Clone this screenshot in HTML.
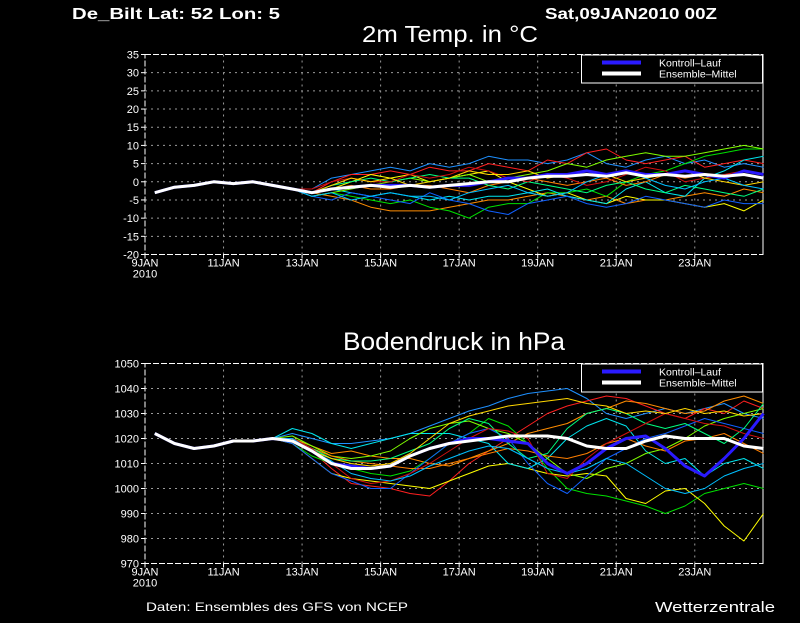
<!DOCTYPE html>
<html><head><meta charset="utf-8">
<style>
html,body{margin:0;padding:0;background:#000;}
body{width:800px;height:618px;overflow:hidden;position:relative;font-family:"Liberation Sans",sans-serif;}
svg text{font-family:"Liberation Sans",sans-serif;fill:#fff;}
</style></head>
<body>
<svg id="chart" width="800" height="618" viewBox="0 0 800 618" xmlns="http://www.w3.org/2000/svg">
<rect x="0" y="0" width="800" height="618" fill="#000"/>
<text x="72" y="19" font-size="16" font-weight="bold" textLength="208" lengthAdjust="spacingAndGlyphs">De_Bilt   Lat: 52  Lon: 5</text>
<text x="545" y="19" font-size="16" font-weight="bold" textLength="172" lengthAdjust="spacingAndGlyphs">Sat,09JAN2010  00Z</text>
<text x="362" y="42" font-size="23" textLength="176" lengthAdjust="spacingAndGlyphs">2m Temp. in °C</text>
<text x="343" y="350" font-size="25" textLength="222" lengthAdjust="spacingAndGlyphs">Bodendruck in hPa</text>
<text x="146" y="611" font-size="12" textLength="262" lengthAdjust="spacingAndGlyphs">Daten: Ensembles des GFS von NCEP</text>
<text x="655" y="612" font-size="15" textLength="120" lengthAdjust="spacingAndGlyphs">Wetterzentrale</text>
<g id="top"></g>
<g id="bot"></g>
</svg>
<script>
// ---- data ----
const dayLabels = ["9JAN","11JAN","13JAN","15JAN","17JAN","19JAN","21JAN","23JAN"];
const tempTicks = [35,30,25,20,15,10,5,0,-5,-10,-15,-20];
const presTicks = [1050,1040,1030,1020,1010,1000,990,980,970];
const memberColors = ["#1e90ff","#ff2020","#ff8c00","#00e000","#ffff00","#00e5ee","#80ff00","#ff7f00","#1060ff","#00ff80","#d01010","#ffd700","#00bfff"];
const tempPrefix = [-3,-1.5,-1,0,-0.5,0,-1,-2];
const tempMean = [-3,-1.5,-1,0,-0.5,0,-1,-2,-3,-2,-1.5,-1,-1.5,-1,-1.5,-1,-0.5,0,0,1,1.5,1.5,2,1.5,2.5,1.5,2,1.5,2,1.5,2,1];
const tempControl = [-3,-2,-1.5,-1,-1,-1,-1.5,-1,-1,0,1,1,2,2,3,2,3,2,2,3,2,1,3,2];
const tempM1 = [-2,1,2,3,4,3,5,4,5,7,6,6,5,6,8,5,4,6,7,5,6,4,5,4];
const tempM2 = [-3,0,2,2,3,2,4,3,3,5,4,3,6,5,8,9,6,5,6,7,4,5,6,5];
const tempM3 = [-3,-4,-5,-7,-8,-8,-8,-7,-6,-5,-5,-4,-3,-4,-5,-4,-6,-5,-5,-4,-3,-4,-2,-3];
const tempM4 = [-4,-3,-4,-5,-6,-5,-7,-8,-10,-7,-6,-6,-3,-3,-2,-4,0,2,3,5,7,8,9,9];
const tempM5 = [-3,-2,0,2,1,2,0,1,2,3,0,-2,-4,-3,-5,-6,-4,-5,-5,-6,-7,-6,-8,-5];
const tempM6 = [-3,-2,-3,-4,-3,-4,-5,-4,-5,-4,-4,-3,-2,-4,-5,-6,-2,0,-3,-4,1,3,6,7];
const tempM7 = [-4,-3,-2,-1,0,1,0,1,2,0,1,2,3,5,4,6,7,8,7,7,8,9,10,9];
const tempM8 = [-3,-2,-1,-2,-2,-1,-1,-2,-3,-1,0,1,0,-1,0,1,-1,0,2,1,2,1,3,2];
const tempM9 = [-4,-5,-3,-4,-5,-6,-3,-5,-6,-8,-9,-6,-5,-4,-6,-7,-6,-4,-5,-6,-7,-5,-6,-6];
const tempM10 = [-3,-1,0,1,0,1,2,1,1,-1,-2,0,-1,-2,-3,-1,0,-2,-3,-1,-2,-3,-4,-2];
const tempM11 = [-2,0,1,0,0,2,1,2,4,3,1,0,2,1,-1,0,2,4,3,0,1,2,3,2];
const tempM12 = [-3,-1,1,0,1,-1,0,1,3,2,2,3,1,2,3,2,0,1,2,3,1,0,-1,0];
const tempM13 = [-4,-3,-5,-4,-3,-4,-4,-5,-3,-2,-1,-3,-4,-3,0,2,3,1,-1,-2,0,1,-1,-2];
const presPrefix = [1022,1018,1016,1017,1019,1019,1020];
const presMean = [1022,1018,1016,1017,1019,1019,1020,1019,1015,1010,1008,1008,1009,1013,1016,1018,1019,1020,1021,1021,1021,1020,1017,1016,1016,1019,1021,1020,1020,1020,1017,1016];
const presControl = [1019,1015,1010,1009,1008,1009,1013,1016,1018,1020,1020,1019,1018,1010,1006,1010,1016,1020,1021,1016,1009,1005,1012,1020,1030];
const presM1 = [1022,1020,1018,1018,1019,1020,1022,1025,1028,1031,1033,1036,1038,1039,1040,1036,1030,1028,1030,1032,1030,1032,1034,1030,1028];
const presM2 = [1020,1015,1008,1002,1001,1000,998,997,1003,1010,1015,1020,1025,1030,1033,1035,1037,1036,1033,1030,1028,1032,1030,1035,1032];
const presM3 = [1020,1017,1014,1015,1013,1012,1012,1010,1009,1012,1015,1018,1022,1024,1026,1030,1032,1035,1034,1032,1030,1031,1035,1037,1034];
const presM4 = [1018,1013,1010,1008,1006,1005,1007,1012,1018,1022,1028,1025,1018,1008,1000,998,997,995,993,990,993,998,1000,1002,1000];
const presM5 = [1018,1012,1006,1004,1003,1002,1001,1000,1003,1006,1009,1010,1008,1006,1005,1006,1005,996,994,999,1000,994,985,979,990];
const presM6 = [1024,1022,1018,1016,1018,1020,1022,1022,1022,1020,1018,1010,1008,1012,1020,1025,1028,1025,1015,1010,1012,1005,1010,1012,1008];
const presM7 = [1021,1017,1013,1012,1013,1015,1020,1024,1026,1027,1024,1022,1018,1012,1006,1004,1008,1010,1014,1016,1020,1025,1028,1030,1032];
const presM8 = [1019,1016,1013,1011,1010,1009,1008,1008,1010,1012,1014,1016,1015,1013,1012,1014,1018,1020,1017,1015,1019,1020,1022,1018,1014];
const presM9 = [1018,1012,1006,1003,1000,1000,1006,1012,1018,1022,1024,1020,1010,1002,998,1005,1012,1016,1020,1022,1025,1028,1026,1024,1022];
const presM10 = [1020,1016,1012,1011,1011,1012,1015,1018,1024,1028,1026,1018,1012,1014,1024,1030,1032,1030,1026,1024,1026,1022,1018,1024,1034];
const presM11 = [1020,1016,1010,1004,1002,1003,1006,1010,1015,1020,1024,1023,1020,1006,1004,1012,1018,1022,1026,1030,1028,1026,1025,1022,1020];
const presM12 = [1019,1015,1012,1010,1009,1010,1014,1020,1026,1029,1031,1033,1034,1035,1036,1034,1033,1030,1031,1030,1032,1030,1031,1029,1030];
const presM13 = [1020,1015,1011,1006,1004,1003,1005,1009,1012,1015,1017,1016,1012,1008,1006,1008,1012,1010,1005,1000,998,1000,1005,1008,1010];

// ---- drawing ----
const NS="http://www.w3.org/2000/svg";
const X0=145, X1=763, DAY=39.27;
function xs(day){return X0+day*DAY;}
function tOf(i){return 0.25+0.5*i;}
function mk(tag,attrs,parent){const e=document.createElementNS(NS,tag);for(const k in attrs)e.setAttribute(k,attrs[k]);parent.appendChild(e);return e;}

function panel(g,name,top,bottom,vmax,vmin,ticks,prefix,members,control,mean){
  const ys=v=>top+(vmax-v)/(vmax-vmin)*(bottom-top);
  ticks.forEach(t=>{
    const y=ys(t);
    if(t!==vmin&&t!==vmax){const l=mk('line',{x1:X0,x2:X1,y1:y,y2:y,stroke:'#9a9a9a','stroke-dasharray':'2,4','stroke-width':1},g);
      
      }
    const tk=mk('line',{x1:X0-4,x2:X0,y1:y,y2:y,stroke:'#fff'},g);
    
    
    const tx=mk('text',{x:X0-6,y:y+4,'font-size':11,'text-anchor':'end'},g);
    tx.textContent=t;
    
    
  });
  dayLabels.forEach((d,i)=>{
    const x=xs(i*2);
    if(i>0){const l=mk('line',{x1:x,x2:x,y1:top,y2:bottom,stroke:'#9a9a9a','stroke-dasharray':'2,4'},g);
      
      }
    const tk=mk('line',{x1:x,x2:x,y1:bottom,y2:bottom+4,stroke:'#fff'},g);
    
    
    const tx=mk('text',{x:x,y:bottom+12,'font-size':11,'text-anchor':'middle'},g);
    tx.textContent=d;
    
    
  });
  const yr=mk('text',{x:X0,y:bottom+23,'font-size':11,'text-anchor':'middle'},g);
  yr.textContent='2010';
  
  
  const ax=mk('path',{d:`M${X0},${top}H${X1}V${bottom}H${X0}Z`,fill:'none',stroke:'#fff','stroke-dasharray':'6,2'},g);
  
  
  mk('line',{x1:X1,x2:X1,y1:top,y2:bottom,stroke:'#fff'},g);
  const line=(vals,color,w,nm)=>{
    const pts=vals.map((v,i)=>xs(tOf(i)).toFixed(1)+','+ys(v).toFixed(1)).join(' ');
    const p=mk('polyline',{points:pts,fill:'none',stroke:color,'stroke-width':w,'stroke-linejoin':'round'},g);
    
    
  };
  members.forEach((m,k)=>line(prefix.concat(m),memberColors[k%memberColors.length],1,name+'-member-'+(k+1)));
  line(prefix.concat(control),'#2a1aff',3,name+'-control-run');
  line(mean,'#fff',3,name+'-ensemble-mean');
  const lg=mk('g',{},g);
  
  
  mk('rect',{x:581.5,y:top+0.5,width:181,height:28,fill:'#000',stroke:'#fff'},lg);
  mk('line',{x1:602,x2:641,y1:top+8,y2:top+8,stroke:'#2a1aff','stroke-width':4},lg);
  mk('line',{x1:602,x2:641,y1:top+19,y2:top+19,stroke:'#fff','stroke-width':4},lg);
  const t1=mk('text',{x:659,y:top+12,'font-size':10.5},lg);t1.textContent='Kontroll\u2013Lauf';
  
  
  const t2=mk('text',{x:659,y:top+23,'font-size':10.5},lg);t2.textContent='Ensemble\u2013Mittel';
  
  
}
const tempMembers=[tempM1,tempM2,tempM3,tempM4,tempM5,tempM6,tempM7,tempM8,tempM9,tempM10,tempM11,tempM12,tempM13];
const presMembers=[presM1,presM2,presM3,presM4,presM5,presM6,presM7,presM8,presM9,presM10,presM11,presM12,presM13];
const gt=document.getElementById('top');


const gb=document.getElementById('bot');


panel(gt,'temp',54.5,254.5,35,-20,tempTicks,tempPrefix,tempMembers,tempControl,tempMean);
panel(gb,'pressure',363.5,563.5,1050,970,presTicks,presPrefix,presMembers,presControl,presMean);
</script>
</body></html>
